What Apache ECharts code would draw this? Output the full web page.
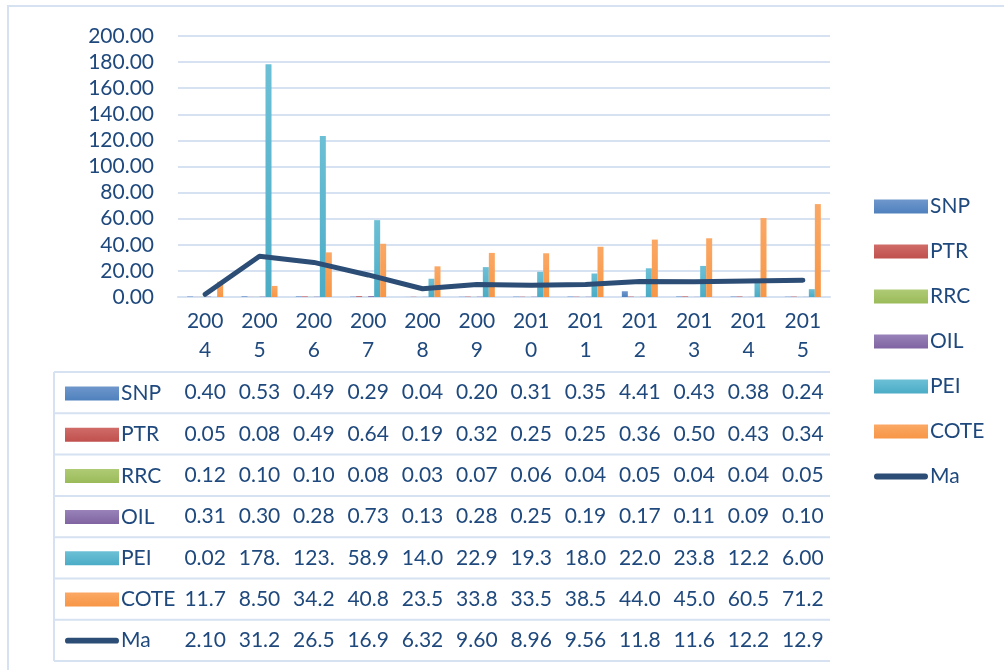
<!DOCTYPE html>
<html>
<head>
<meta charset="utf-8">
<script src="https://cdn.jsdelivr.net/npm/echarts@6/dist/echarts.min.js"></script>
<style>
  html, body { margin: 0; padding: 0; background: #fff; }
  #main { width: 1004px; height: 670px; }
</style>
</head>
<body>
<div id="main"></div>
<script>
var years = ['2004', '2005', '2006', '2007', '2008', '2009', '2010', '2011', '2012', '2013', '2014', '2015'];
var seriesNames = ['SNP', 'PTR', 'RRC', 'OIL', 'PEI', 'COTE', 'Ma'];
var snp  = [0.40, 0.53, 0.49, 0.29, 0.04, 0.20, 0.31, 0.35, 4.41, 0.43, 0.38, 0.24];
var ptr  = [0.05, 0.08, 0.49, 0.64, 0.19, 0.32, 0.25, 0.25, 0.36, 0.50, 0.43, 0.34];
var rrc  = [0.12, 0.10, 0.10, 0.08, 0.03, 0.07, 0.06, 0.04, 0.05, 0.04, 0.04, 0.05];
var oil  = [0.31, 0.30, 0.28, 0.73, 0.13, 0.28, 0.25, 0.19, 0.17, 0.11, 0.09, 0.10];
var pei  = [0.02, 178.4, 123.4, 58.9, 14.0, 22.9, 19.3, 18.0, 22.0, 23.8, 12.2, 6.00];
var cote = [11.7, 8.50, 34.2, 40.8, 23.5, 33.8, 33.5, 38.5, 44.0, 45.0, 60.5, 71.2];
var ma   = [2.10, 31.2, 26.5, 16.9, 6.32, 9.60, 8.96, 9.56, 11.8, 11.6, 12.2, 12.9];
var yTicks = [0, 20, 40, 60, 80, 100, 120, 140, 160, 180, 200];

var allData = [snp, ptr, rrc, oil, pei, cote, ma];
var colors = ['#4F81BD', '#C0504D', '#9BBB59', '#8064A2', '#4BACC6', '#F79646', '#2C4D75'];
var lightColors = ['#6F97CC', '#D06C69', '#AFCB76', '#9882B8', '#6CC0D6', '#FBA865'];
var textColor = '#1F497D';
var borderColor = '#D6E1F1';
var font = 'Lato, "Open Sans", sans-serif';

// layout of plot + table
var plotLeft = 178, plotRight = 830, plotTop = 36, plotBottom = 297;
var colW = (plotRight - plotLeft) / years.length;
var headerBottom = 372, rowH = 41.3, keyLeft = 54;

// thick round-capped line for the Ma key
var lineIcon = 'path://M3,4 L53,4 A3,3 0 0 1 53,10 L3,10 A3,3 0 0 1 3,4 Z';

var chart = echarts.init(document.getElementById('main'));

var series = [];
for (var s = 0; s < 6; s++) {
  series.push({
    name: seriesNames[s],
    type: 'bar',
    barWidth: 6,
    barGap: '0%',
    data: allData[s],
    itemStyle: {
      color: new echarts.graphic.LinearGradient(0, 0, 0, 1, [
        { offset: 0, color: lightColors[s] },
        { offset: 1, color: colors[s] }
      ])
    }
  });
}
series.push({
  name: 'Ma',
  type: 'line',
  data: ma,
  symbol: 'none',
  z: 5,
  lineStyle: { color: colors[6], width: 5, cap: 'round', join: 'round' },
  itemStyle: { color: colors[6] }
});

// table: values, borders
var graphics = [];
graphics.push({
  type: 'rect', silent: true,
  shape: { x: 8, y: 6, width: 1100, height: 700 },
  style: { fill: null, stroke: borderColor, lineWidth: 2 }
});
for (var r = 0; r <= seriesNames.length; r++) {
  var y = headerBottom + r * rowH;
  graphics.push({
    type: 'line', silent: true,
    shape: { x1: keyLeft, y1: y, x2: plotRight, y2: y },
    style: { stroke: borderColor, lineWidth: 2 }
  });
}
graphics.push({
  type: 'line', silent: true,
  shape: { x1: keyLeft, y1: headerBottom, x2: keyLeft, y2: headerBottom + seriesNames.length * rowH },
  style: { stroke: borderColor, lineWidth: 2 }
});
for (var r2 = 0; r2 < allData.length; r2++) {
  for (var c = 0; c < years.length; c++) {
    graphics.push({
      type: 'text', silent: true,
      x: plotLeft + (c + 0.5) * colW,
      y: headerBottom + (r2 + 0.5) * rowH,
      style: {
        text: allData[r2][c].toFixed(2).slice(0, 4),
        fill: textColor, font: '21px ' + font,
        align: 'center', verticalAlign: 'middle'
      }
    });
  }
}

var legendBase = {
  orient: 'vertical',
  data: seriesNames.map(function (n, i) {
    return i < 6 ? { name: n, icon: 'rect' } : { name: n, icon: lineIcon, itemStyle: { color: colors[6] } };
  }),
  itemWidth: 54,
  itemHeight: 14,
  symbolKeepAspect: true,
  textStyle: { color: textColor, fontSize: 21, fontFamily: font, padding: [0, 0, 0, -3] }
};

var option = {
  backgroundColor: '#fff',
  animation: false,
  legend: [
    Object.assign({}, legendBase, { left: 869, top: 191, itemGap: 24 }),
    Object.assign({}, legendBase, { left: 60, top: 378, itemGap: 20.2 })
  ],
  grid: { left: plotLeft, right: 1004 - plotRight, top: plotTop, height: plotBottom - plotTop },
  xAxis: {
    type: 'category',
    data: years,
    axisLine: { lineStyle: { color: borderColor, width: 2 } },
    axisTick: { length: headerBottom + seriesNames.length * rowH - plotBottom, lineStyle: { color: borderColor, width: 2 } },
    axisLabel: {
      color: textColor, fontSize: 21, fontFamily: font, lineHeight: 29, margin: 10,
      formatter: function (v) { return v.slice(0, 3) + '\n' + v.slice(3); }
    }
  },
  yAxis: {
    type: 'value',
    min: yTicks[0],
    max: yTicks[yTicks.length - 1],
    interval: yTicks[1] - yTicks[0],
    axisLine: { show: false },
    axisTick: { show: false },
    splitLine: { lineStyle: { color: borderColor, width: 2 } },
    axisLabel: {
      color: textColor, fontSize: 21, fontFamily: font, margin: 24,
      formatter: function (v) { return v.toFixed(2); }
    }
  },
  graphic: graphics,
  series: series
};

chart.setOption(option);
</script>
</body>
</html>
